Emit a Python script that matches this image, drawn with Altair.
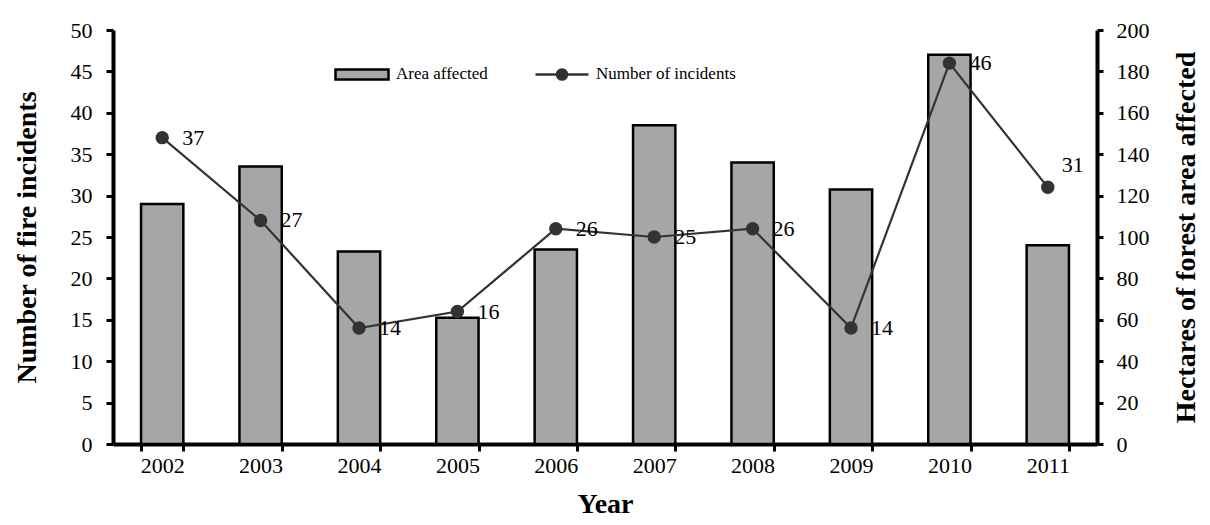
import altair as alt
import pandas as pd

years = ["2002", "2003", "2004", "2005", "2006", "2007", "2008", "2009", "2010", "2011"]
incidents = [37, 27, 14, 16, 26, 25, 26, 14, 46, 31]
area = [116, 134, 93, 61, 94, 154, 136, 123, 188, 96]
series = ["Area affected", "Number of incidents"]

df = pd.DataFrame({"year": years, "incidents": incidents, "area": area})
leg_df = pd.DataFrame({"series": series})

FONT = "Liberation Serif"

x = alt.X("year:N", title="Year",
          scale=alt.Scale(paddingInner=0.57, paddingOuter=0.285),
          axis=alt.Axis(labelAngle=0, tickBand="extent", tickSize=7, tickWidth=3,
                        domainWidth=4, labelPadding=4, titlePadding=14,
                        labelFontSize=22, titleFontSize=28))

base = alt.Chart(df)

bars = base.mark_bar(fill="#a6a6a6", stroke="black", strokeWidth=2.5).encode(
    x=x,
    y=alt.Y("area:Q", title="Hectares of forest area affected",
            scale=alt.Scale(domain=[0, 200]),
            axis=alt.Axis(orient="right", values=list(range(0, 201, 20)), tickSize=6,
                          tickWidth=3, domainWidth=4, labelPadding=13, titlePadding=23,
                          titleAngle=270, titleBaseline="top",
                          labelFontSize=22, titleFontSize=28, grid=False)),
)

line = base.mark_line(color="#333333", strokeWidth=2.2).encode(
    x=x,
    y=alt.Y("incidents:Q", title="Number of fire incidents",
            scale=alt.Scale(domain=[0, 50]),
            axis=alt.Axis(orient="left", values=list(range(0, 51, 5)), tickSize=7,
                          tickWidth=3, domainWidth=4, labelPadding=14, titlePadding=29,
                          labelFontSize=22, titleFontSize=28, grid=False)),
)
pts = base.mark_circle(color="#333333", size=180, opacity=1).encode(
    x=x, y=alt.Y("incidents:Q", scale=alt.Scale(domain=[0, 50]), axis=None))

labels = base.mark_text(align="left", baseline="middle", dx=20, fontSize=22,
                        font=FONT, color="black").encode(
    x=x, y=alt.Y("incidents:Q", scale=alt.Scale(domain=[0, 50]), axis=None),
    text="incidents:Q").transform_filter("datum.year != '2011'")
labels_last = base.mark_text(align="left", baseline="middle", dx=14, dy=-22, fontSize=22,
                             font=FONT, color="black").encode(
    x=x, y=alt.Y("incidents:Q", scale=alt.Scale(domain=[0, 50]), axis=None),
    text="incidents:Q").transform_filter("datum.year == '2011'")

rect_path = "M-1,-0.19 L1,-0.19 L1,0.19 L-1,0.19 Z"
line_path = ("M-1,0 L-0.19,0 A0.19,0.19 0 1,1 0.19,0 L1,0 L0.19,0 "
             "A0.19,0.19 0 1,1 -0.19,0 Z")

legend = alt.Legend(title=None, orient="none", legendX=221, legendY=16,
                    direction="horizontal", symbolSize=2809, labelFont=FONT,
                    labelFontSize=17, labelColor="black", columnPadding=42,
                    labelOffset=6, symbolStrokeWidth=2.5, symbolOpacity=1)

leg = alt.Chart(leg_df).mark_point(filled=True, opacity=0, strokeWidth=2.5).encode(
    shape=alt.Shape("series:N", scale=alt.Scale(domain=series, range=[rect_path, line_path]),
                    legend=legend),
    fill=alt.Fill("series:N", scale=alt.Scale(domain=series, range=["#a6a6a6", "#333333"]),
                  legend=legend),
    stroke=alt.Stroke("series:N", scale=alt.Scale(domain=series, range=["black", "#333333"]),
                      legend=legend),
)

chart = alt.layer(bars, line, pts, labels, labels_last, leg).resolve_scale(
    y="independent"
).properties(
    width=984, height=414,
    autosize=alt.AutoSizeParams(type="none"),
    padding={"left": 105, "top": 22, "right": 105, "bottom": 73},
).configure_axis(
    labelFont=FONT, titleFont=FONT, labelColor="black", titleColor="black",
    domainColor="black", tickColor="black", titleFontWeight="bold",
).configure_view(stroke=None)

chart.save("out.html", embed_options={"renderer": "svg", "actions": False})
